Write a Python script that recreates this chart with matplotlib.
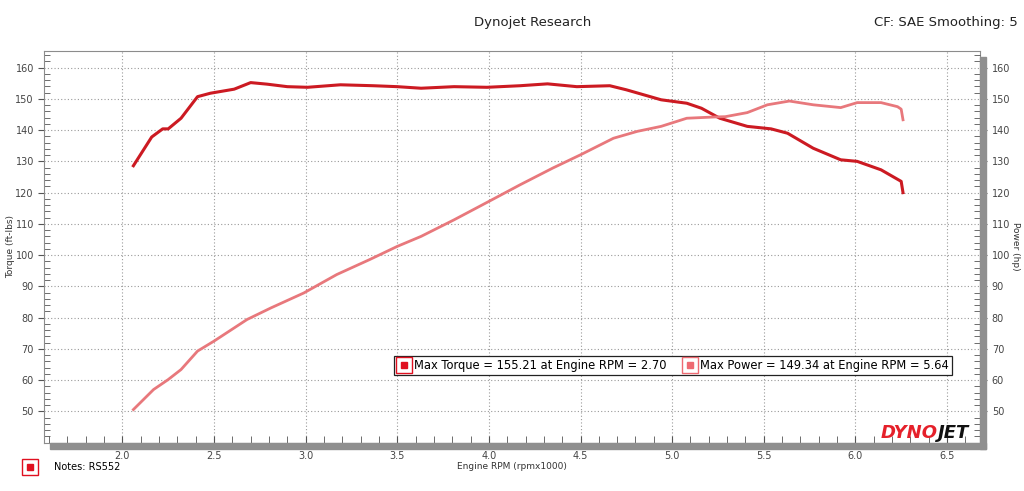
import matplotlib
matplotlib.use("Agg")
import matplotlib.pyplot as plt
from matplotlib.lines import Line2D
from matplotlib.patches import Rectangle
from matplotlib.legend_handler import HandlerTuple
from matplotlib.ticker import MultipleLocator

# Torque curve (ft-lbs)
rpm_torque = [2.06, 2.16, 2.22, 2.25, 2.32, 2.41, 2.48, 2.61, 2.70, 2.79, 2.90, 3.01,
              3.19, 3.37, 3.50, 3.63, 3.81, 3.99, 4.17, 4.32, 4.48, 4.66, 4.75, 4.94,
              5.08, 5.16, 5.26, 5.41, 5.54, 5.63, 5.77, 5.92, 6.01, 6.14, 6.25, 6.26]
torque = [128.6, 137.8, 140.4, 140.4, 143.8, 150.7, 151.8, 153.1, 155.2, 154.7, 153.9, 153.7,
          154.5, 154.2, 153.9, 153.4, 153.9, 153.7, 154.2, 154.8, 153.9, 154.2, 152.9, 149.7,
          148.6, 147.0, 143.8, 141.2, 140.4, 139.0, 134.2, 130.5, 130.0, 127.3, 123.6, 120.0]

# Power curve (hp)
rpm_power = [2.06, 2.17, 2.25, 2.32, 2.41, 2.50, 2.68, 2.81, 2.99, 3.17, 3.35, 3.50,
             3.63, 3.81, 4.01, 4.17, 4.35, 4.50, 4.68, 4.81, 4.94, 5.08, 5.23, 5.29,
             5.41, 5.52, 5.64, 5.77, 5.92, 6.01, 6.14, 6.23, 6.25, 6.26]
power = [50.6, 57.0, 60.2, 63.4, 69.3, 72.5, 79.4, 83.1, 87.9, 93.8, 98.6, 102.8,
         106.0, 111.3, 117.5, 122.5, 127.9, 132.1, 137.4, 139.6, 141.2, 143.8, 144.2, 144.3,
         145.6, 148.1, 149.3, 148.1, 147.2, 148.8, 148.8, 147.5, 146.7, 143.3]

torque_label = "Max Torque = 155.21 at Engine RPM = 2.70"
power_label = "Max Power = 149.34 at Engine RPM = 5.64"

torque_color = "#cc1a22"
power_color = "#e8787c"

fig = plt.figure(figsize=(10.24, 4.91), dpi=100)
ax = fig.add_axes([0.0433, 0.0984, 0.9137, 0.7983])

ax.plot(rpm_torque, torque, color=torque_color, lw=2.2, solid_joinstyle="round")
ax.plot(rpm_power, power, color=power_color, lw=2.0, solid_joinstyle="round")

ax.set_xlim(1.574, 6.68)
ax.set_ylim(40, 165.4)
ax.xaxis.set_major_locator(MultipleLocator(0.5))
ax.xaxis.set_minor_locator(MultipleLocator(0.1))
ax.yaxis.set_minor_locator(MultipleLocator(2))
ax.set_yticks(range(50, 161, 10))
ax.grid(True, which="major", linestyle=(0, (1, 2)), color="#9a9a9a", lw=0.8)

for s in ax.spines.values():
    s.set_color("#8c8c8c")
    s.set_linewidth(0.8)

ax.tick_params(axis="x", which="both", direction="in", length=5, color="#555555",
               labelsize=7, labelcolor="#444444", pad=6)
ax.tick_params(axis="y", which="major", direction="out", length=4, color="#555555",
               labelsize=7, labelcolor="#444444")
ax.tick_params(axis="y", which="minor", direction="in", length=4, color="#555555")

ax2 = ax.twinx()
ax2.set_ylim(ax.get_ylim())
ax2.set_yticks(range(50, 161, 10))
ax2.yaxis.set_minor_locator(MultipleLocator(2))
ax2.tick_params(axis="y", which="major", direction="out", length=5, color="#555555",
                labelsize=7, labelcolor="#444444")
ax2.tick_params(axis="y", which="minor", direction="in", length=4, color="#555555")
for s in ax2.spines.values():
    s.set_visible(False)

ax.set_ylabel("Torque (ft-lbs)", fontsize=6.5, color="#333333", labelpad=0)
ax2.set_ylabel("Power (hp)", fontsize=6.5, color="#333333", rotation=-90, labelpad=7)
ax.set_xlabel("Engine RPM (rpmx1000)", fontsize=6.5, color="#333333", labelpad=1)

# gray shadow along bottom and right edges
fig.patches.append(Rectangle((50 / 1024, 1 - 449 / 491), 936 / 1024, 6 / 491,
                             transform=fig.transFigure, color="#8f8f8f", zorder=0))
fig.patches.append(Rectangle((980 / 1024, 1 - 449 / 491), 6 / 1024, 392 / 491,
                             transform=fig.transFigure, color="#8f8f8f", zorder=0))

fig.text(0.52, 0.955, "Dynojet Research", ha="center", va="center", fontsize=9.5, color="#222222")
fig.text(0.994, 0.955, "CF: SAE Smoothing: 5", ha="right", va="center", fontsize=9.5, color="#222222")

# legend with boxed square markers
def boxed(color):
    outer = Line2D([], [], ls="none", marker="s", markersize=11, markerfacecolor="white",
                   markeredgecolor=color, markeredgewidth=1.0)
    inner = Line2D([], [], ls="none", marker="s", markersize=5, color=color)
    return (outer, inner)

hmap = {tuple: HandlerTuple(ndivide=1, pad=0)}
leg = ax.legend([boxed("#e01020"), boxed("#ee6a72")], [torque_label, power_label],
                handler_map=hmap, loc="center", bbox_to_anchor=(0.672, 0.197), ncol=2,
                fontsize=8.3, frameon=True, fancybox=False, edgecolor="#222222", framealpha=1,
                handlelength=1.2, handletextpad=0.3, columnspacing=1.4,
                borderpad=0.25, borderaxespad=0)
leg.get_frame().set_linewidth(0.9)

# notes line
fig.legend([boxed("#e01020")], ["Notes: RS552"], handler_map=hmap,
           loc="center left", bbox_to_anchor=(0.014, 0.048), frameon=False, fontsize=7,
           handlelength=1.4, handletextpad=1.8)

# DYNOJET logo
ax.text(0.955, 0.002, "DYNO", transform=ax.transAxes, ha="right", va="bottom",
        fontsize=13, fontweight="heavy", fontstyle="italic", color="#e5202a")
ax.text(0.955, 0.002, "JET", transform=ax.transAxes, ha="left", va="bottom",
        fontsize=13, fontweight="heavy", fontstyle="italic", color="#111111")

fig.savefig("out.png", dpi=100)
